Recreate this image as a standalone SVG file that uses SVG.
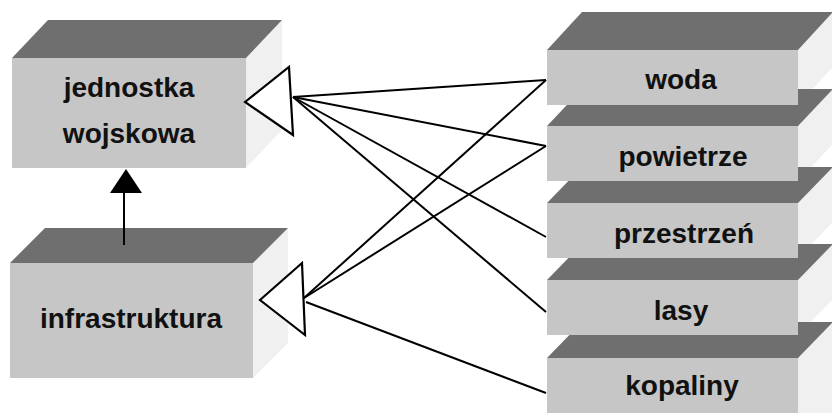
<svg xmlns="http://www.w3.org/2000/svg" width="832" height="413" viewBox="0 0 832 413">
<style>
.top{fill:#6f6f6f}
.front{fill:#c6c6c6}
.side{fill:#f0f0f0}
.lbl{font-family:"Liberation Sans",Arial,sans-serif;font-weight:bold;font-size:28px;fill:#111;text-anchor:middle}
.ln{stroke:#000;stroke-width:2;fill:none}
.hol{stroke:#000;stroke-width:2.2;fill:#fff;stroke-linejoin:miter}
</style>
<rect width="832" height="413" fill="#fff"/>
<g id="node-jednostka">
<polygon class="side" points="246,58 282,20 282,130 246,168"/>
<polygon class="top" points="12,58 246,58 282,20 48,20"/>
<rect class="front" x="12" y="58" width="234" height="110"/>
<text class="lbl" x="129" y="97">jednostka</text>
<text class="lbl" x="129" y="143">wojskowa</text>
</g>
<g id="node-infrastruktura">
<polygon class="side" points="253,263 288,228 288,343 253,378"/>
<polygon class="top" points="10,263 253,263 288,228 45,228"/>
<rect class="front" x="10" y="263" width="243" height="115"/>
<text class="lbl" x="131" y="328">infrastruktura</text>
</g>
<g id="right-sides">
<polygon class="side" points="798,50 833,12 833,67 798,105"/>
<polygon class="side" points="798,126 833,89 833,144 798,181"/>
<polygon class="side" points="798,203 833,167 833,222 798,258"/>
<polygon class="side" points="798,280 833,244 833,299 798,335"/>
<polygon class="side" points="798,358 833,322 833,413 798,413"/>
</g>
<g id="node-kopaliny">
<polygon class="top" points="547,358 798,358 833,322 582,322"/>
<rect class="front" x="547" y="358" width="251" height="55"/>
<text class="lbl" x="682" y="395">kopaliny</text>
</g>
<g id="node-lasy">
<polygon class="top" points="547,280 798,280 833,244 582,244"/>
<rect class="front" x="547" y="280" width="251" height="55"/>
<text class="lbl" x="681" y="320">lasy</text>
</g>
<g id="node-przestrzen">
<polygon class="top" points="547,203 798,203 833,167 582,167"/>
<rect class="front" x="547" y="203" width="251" height="55"/>
<text class="lbl" x="684" y="243">przestrzeń</text>
</g>
<g id="node-powietrze">
<polygon class="top" points="547,126 798,126 833,89 582,89"/>
<rect class="front" x="547" y="126" width="251" height="55"/>
<text class="lbl" x="683" y="166">powietrze</text>
</g>
<g id="node-woda">
<polygon class="top" points="547,50 798,50 833,12 582,12"/>
<rect class="front" x="547" y="50" width="251" height="55"/>
<text class="lbl" x="681" y="89">woda</text>
</g>
<g id="connectors">
<line class="ln" x1="124" y1="245" x2="124" y2="192"/>
<polygon points="126,169 110,193 142,193" fill="#000"/>
<line class="ln" x1="293" y1="97" x2="546" y2="80"/>
<line class="ln" x1="293" y1="97" x2="546" y2="146"/>
<line class="ln" x1="293" y1="97" x2="546" y2="237"/>
<line class="ln" x1="293" y1="97" x2="546" y2="312"/>
<line class="ln" x1="304" y1="298" x2="546" y2="80"/>
<line class="ln" x1="304" y1="298" x2="546" y2="146"/>
<line class="ln" x1="306" y1="302" x2="546" y2="393"/>
<polygon class="hol" points="245,102 289,67 293,135"/>
<polygon class="hol" points="260,300 302,263 305,335"/>
</g>
</svg>
